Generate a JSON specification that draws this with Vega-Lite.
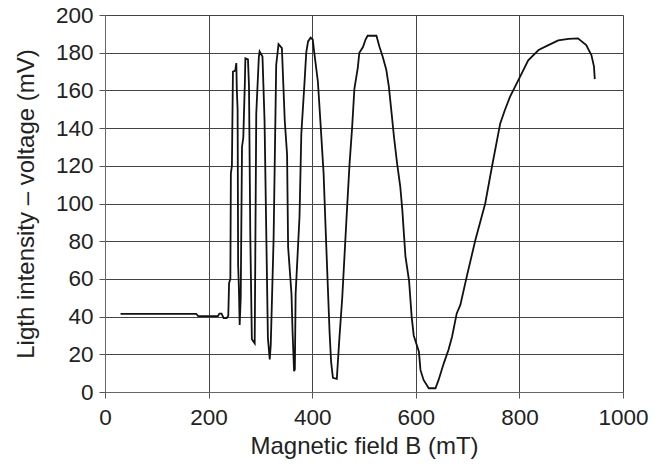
{
  "$schema": "https://vega.github.io/schema/vega-lite/v6.json",
  "width": 518,
  "height": 377,
  "autosize": {"type": "none"},
  "padding": {"left": 105, "top": 15, "right": 38, "bottom": 74},
  "background": "white",
  "config": {
    "view": {"stroke": null},
    "font": "Liberation Sans",
    "axis": {
      "labelFont": "Liberation Sans",
      "titleFont": "Liberation Sans",
      "labelFontSize": 22.5,
      "titleFontSize": 24,
      "titleFontWeight": "normal",
      "labelColor": "#222",
      "titleColor": "#222",
      "gridColor": "#444",
      "gridWidth": 1,
      "gridOpacity": 1,
      "domainColor": "#666",
      "domainWidth": 1,
      "tickColor": "#555",
      "tickSize": 6,
      "tickWidth": 1
    }
  },
  "data": {
    "values": [
      {"B": 30, "V": 41.4}, {"B": 100, "V": 41.4}, {"B": 176, "V": 41.4}, {"B": 180, "V": 40.3},
      {"B": 218, "V": 40.3}, {"B": 221, "V": 41.6}, {"B": 225, "V": 41.6}, {"B": 229, "V": 39.2},
      {"B": 235, "V": 39.2}, {"B": 238, "V": 40.5}, {"B": 239.5, "V": 57.7}, {"B": 242, "V": 60},
      {"B": 243, "V": 116}, {"B": 245, "V": 120}, {"B": 247, "V": 170}, {"B": 251.5, "V": 170.5},
      {"B": 253.5, "V": 174.5}, {"B": 254.5, "V": 160}, {"B": 256, "V": 150}, {"B": 257, "V": 67.5},
      {"B": 258.5, "V": 55}, {"B": 260, "V": 35.5},
      {"B": 262, "V": 50}, {"B": 264.5, "V": 130}, {"B": 267, "V": 135}, {"B": 270, "V": 164},
      {"B": 271, "V": 177}, {"B": 276, "V": 176.5}, {"B": 278, "V": 162}, {"B": 280.5, "V": 83},
      {"B": 283.5, "V": 28}, {"B": 289, "V": 25.8},
      {"B": 290, "V": 66}, {"B": 292, "V": 147.6}, {"B": 297, "V": 177.7}, {"B": 298.5, "V": 180.6},
      {"B": 304, "V": 178}, {"B": 308, "V": 144}, {"B": 311.5, "V": 81.6}, {"B": 314.5, "V": 28.6},
      {"B": 318, "V": 17.3},
      {"B": 320, "V": 25}, {"B": 325.5, "V": 81.6}, {"B": 330.5, "V": 173.5}, {"B": 335, "V": 184.5},
      {"B": 341.5, "V": 182.4}, {"B": 347, "V": 144}, {"B": 351.5, "V": 126}, {"B": 353.5, "V": 77},
      {"B": 360, "V": 52}, {"B": 362, "V": 32.6}, {"B": 365, "V": 11},
      {"B": 366.5, "V": 12}, {"B": 368, "V": 52}, {"B": 375.5, "V": 93}, {"B": 379, "V": 137},
      {"B": 385, "V": 163.5}, {"B": 388.5, "V": 180}, {"B": 392, "V": 186}, {"B": 397, "V": 188},
      {"B": 401, "V": 187}, {"B": 404, "V": 180}, {"B": 411, "V": 164.6}, {"B": 415.5, "V": 145},
      {"B": 422, "V": 116}, {"B": 426, "V": 86}, {"B": 430, "V": 57}, {"B": 433.5, "V": 32},
      {"B": 436.5, "V": 16}, {"B": 440, "V": 7.5}, {"B": 447.5, "V": 7},
      {"B": 452.5, "V": 28.6}, {"B": 458, "V": 50}, {"B": 462.5, "V": 73}, {"B": 467, "V": 96},
      {"B": 472, "V": 120.6}, {"B": 477, "V": 140}, {"B": 481.5, "V": 161}, {"B": 488, "V": 172},
      {"B": 491, "V": 180}, {"B": 498, "V": 183}, {"B": 503, "V": 187}, {"B": 507, "V": 189},
      {"B": 524, "V": 189}, {"B": 530, "V": 183}, {"B": 536, "V": 178}, {"B": 543, "V": 171},
      {"B": 548, "V": 162}, {"B": 554, "V": 146}, {"B": 558, "V": 135}, {"B": 564, "V": 121},
      {"B": 570, "V": 109}, {"B": 574, "V": 96.5}, {"B": 577, "V": 84}, {"B": 580, "V": 72},
      {"B": 587, "V": 59}, {"B": 592, "V": 40}, {"B": 596, "V": 30}, {"B": 606, "V": 21.4},
      {"B": 609, "V": 11.7}, {"B": 615, "V": 6.4}, {"B": 625, "V": 2}, {"B": 638, "V": 2},
      {"B": 644, "V": 6.4}, {"B": 654, "V": 15.2}, {"B": 663, "V": 22.3}, {"B": 670, "V": 29.3},
      {"B": 679, "V": 41.7}, {"B": 686, "V": 46.2}, {"B": 699, "V": 62}, {"B": 715, "V": 80.6},
      {"B": 734, "V": 100}, {"B": 747, "V": 119.5}, {"B": 763, "V": 142.5}, {"B": 772, "V": 149.6},
      {"B": 782, "V": 156.7}, {"B": 798, "V": 165.5}, {"B": 817, "V": 176}, {"B": 837, "V": 181.4},
      {"B": 856, "V": 184}, {"B": 875, "V": 186.5}, {"B": 895, "V": 187.3}, {"B": 913, "V": 187.6},
      {"B": 929, "V": 184}, {"B": 939, "V": 178.8}, {"B": 944, "V": 172.6}, {"B": 945.5, "V": 166}
    ]
  },
  "mark": {"type": "line", "color": "#111", "strokeWidth": 1.8, "clip": true},
  "encoding": {
    "x": {
      "field": "B", "type": "quantitative",
      "scale": {"domain": [0, 1000], "nice": false, "zero": false},
      "axis": {"values": [0, 200, 400, 600, 800, 1000], "format": "d", "title": "Magnetic field B (mT)", "labelPadding": 8, "titlePadding": 6, "labelFlush": false}
    },
    "y": {
      "field": "V", "type": "quantitative",
      "scale": {"domain": [0, 200], "nice": false},
      "axis": {"values": [0, 20, 40, 60, 80, 100, 120, 140, 160, 180, 200], "format": "d", "title": "Ligth intensity – voltage (mV)", "labelPadding": 6, "titlePadding": 17, "labelFlush": false}
    }
  }
}
